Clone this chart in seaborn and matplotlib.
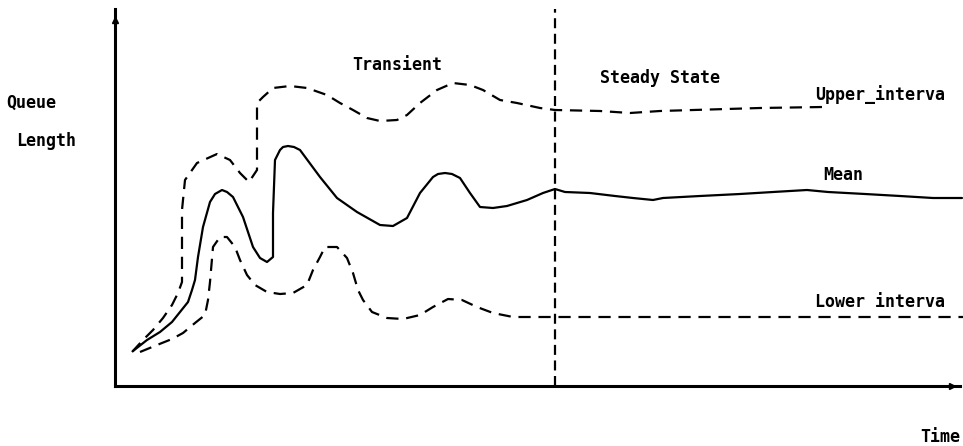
import matplotlib
matplotlib.use("Agg")
import matplotlib.pyplot as plt
import seaborn as sns

# ---- data (time vs. queue length) ----
mean_time = [133, 147, 160, 172, 180, 188, 192, 195, 198, 203,
             210, 215, 222, 227, 233, 243, 253, 260, 267, 273,
             273, 275, 280, 283, 288, 294, 300, 320, 337, 357,
             380, 393, 407, 420, 433, 438, 445, 452, 460, 470,
             480, 493, 507, 527, 543, 555, 565, 590, 615, 633,
             653, 663, 700, 740, 773, 807, 828, 865, 900, 933,
             962]
mean_queue = [35, 46, 54, 64, 74, 84, 96, 106, 129, 159,
              184, 192, 196, 194, 189, 169, 139, 128, 124, 129,
              173, 226, 236, 239, 240, 239, 236, 209, 188, 174,
              161, 160, 168, 193, 209, 212, 213, 212, 208, 193,
              179, 178, 180, 186, 193, 197, 194, 193, 190, 188,
              186, 188, 190, 192, 194, 196, 194, 192, 190, 188,
              188]

upper_time = [132, 143, 153, 163, 172, 178, 182, 182, 182, 185,
              197, 217, 230, 240, 249, 257, 257, 263, 273, 290,
              307, 327, 340, 353, 367, 380, 397, 407, 420, 437,
              453, 470, 483, 500, 517, 540, 555, 600, 630, 660,
              760, 823]
upper_queue = [34, 46, 56, 68, 81, 93, 104, 123, 176, 206,
               223, 232, 226, 213, 204, 216, 283, 289, 298, 300,
               298, 291, 283, 276, 268, 265, 266, 271, 283, 296,
               303, 301, 296, 286, 283, 278, 276, 275, 273, 275,
               278, 279]

lower_time = [140, 157, 172, 183, 195, 205, 208, 210, 213, 220,
              227, 235, 240, 247, 255, 267, 280, 293, 307, 313,
              320, 325, 337, 347, 353, 358, 363, 372, 387, 403,
              420, 433, 448, 462, 477, 493, 513, 540, 555, 963]
lower_queue = [34, 41, 47, 53, 63, 71, 86, 104, 139, 149,
               149, 139, 126, 111, 101, 94, 92, 93, 101, 116,
               129, 139, 139, 128, 113, 96, 86, 74, 68, 67,
               71, 79, 87, 86, 79, 73, 69, 69, 69, 69]

steady_start = 555
time_range = (115, 960)
queue_range = (0, 377)

# ---- figure ----
sns.set_style("white")
plt.rcParams["font.family"] = ["DejaVu Sans Mono", "DejaVu Sans"]

W, H = 963, 446
fig = plt.figure(figsize=(W / 100, H / 100), dpi=100)
ax = fig.add_axes([115 / W, (H - 386) / H, (960 - 115) / W, (386 - 9) / H])

dash_curve = (0, (5.5, 3.5))
sns.lineplot(x=mean_time, y=mean_queue, ax=ax, color="black", lw=1.6,
             estimator=None, sort=False, clip_on=False)
sns.lineplot(x=upper_time, y=upper_queue, ax=ax, color="black", lw=1.6,
             estimator=None, sort=False, linestyle=dash_curve, clip_on=False)
sns.lineplot(x=lower_time, y=lower_queue, ax=ax, color="black", lw=1.6,
             estimator=None, sort=False, linestyle=dash_curve, clip_on=False)
ax.axvline(steady_start, color="black", lw=1.6, linestyle=(0, (4.5, 2.5)))

ax.set_xlim(*time_range)
ax.set_ylim(*queue_range)
ax.set_xticks([])
ax.set_yticks([])
ax.set_xlabel("")
ax.set_ylabel("")
for s in ["top", "right"]:
    ax.spines[s].set_visible(False)
for s in ["left", "bottom"]:
    ax.spines[s].set_linewidth(2.2)
    ax.spines[s].set_color("black")

# arrow heads
ax.plot(0.99, 0, marker=">", color="black", ms=4.5, transform=ax.transAxes, clip_on=False)
ax.plot(0, 0.97, marker="^", color="black", ms=4, transform=ax.transAxes, clip_on=False)

# ---- labels (figure pixel positions) ----
def label(x, y, s, ha="left"):
    fig.text(x / W, 1 - y / H, s, ha=ha, va="center", fontsize=12,
             fontweight="bold", color="black")

label(6, 103, "Queue")
label(16, 141, "Length")
label(352, 65, "Transient")
label(600, 78, "Steady State")
label(815, 95, "Upper_interva")
label(823, 175, "Mean")
label(815, 302, "Lower interva")
label(920, 437, "Time")

fig.savefig("out.png", dpi=100)
